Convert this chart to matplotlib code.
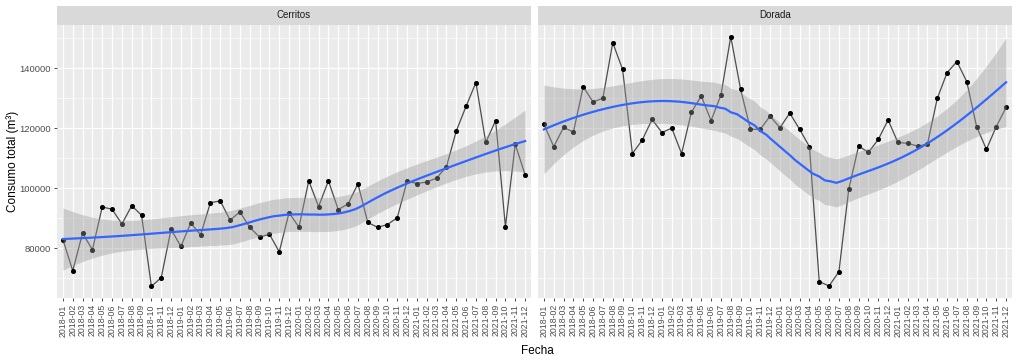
import matplotlib
matplotlib.use("Agg")
import matplotlib.pyplot as plt
import numpy as np

plt.rcParams['font.family'] = ['Liberation Sans', 'DejaVu Sans']

# months 2018-01 .. 2021-12
fechas = [f"{y}-{m:02d}" for y in range(2018, 2022) for m in range(1, 13)]

cerritos = [82900, 72500, 85000, 79500, 93800, 93000, 88100, 94200, 91000, 67300,
            70200, 86300, 80600, 88400, 84500, 95200, 95800, 89400, 92100, 87000,
            83700, 84700, 78800, 91900, 87000, 102500, 93900, 102500, 92900, 94800,
            101500, 88600, 87000, 87900, 90200, 102400, 101600, 102100, 103400, 107200,
            119100, 127400, 135300, 115300, 122600, 87200, 114700, 104500]

dorada = [121400, 113900, 120300, 118800, 133900, 128800, 130100, 148600, 139700, 111600,
          116100, 123000, 118600, 120100, 111600, 125400, 130800, 122600, 131100, 150600,
          133100, 119700, 119700, 124100, 120200, 125100, 119700, 113900, 68900, 67400,
          72200, 99700, 114100, 112000, 116300, 122800, 115300, 115000, 114100, 114700,
          130000, 138600, 142300, 135600, 120600, 113000, 120600, 127000]

paneles = [("Cerritos", cerritos), ("Dorada", dorada)]


def loess_fit(x, y, xnew, span=0.75):
    # local quadratic fit with tricube weights, like geom_smooth's default
    n = len(x)
    q = int(np.floor(n * span))

    def rows(pts):
        out = []
        for x0 in pts:
            d = np.abs(x - x0)
            h = np.sort(d)[q - 1]
            w = np.clip(1 - (d / h) ** 3, 0, None) ** 3
            X = np.column_stack([np.ones(n), x - x0, (x - x0) ** 2])
            XtW = X.T * w
            out.append(np.linalg.solve(XtW @ X, XtW)[0])
        return np.array(out)

    L = rows(x)
    I = np.eye(n)
    M = (I - L).T @ (I - L)
    d1 = np.trace(M)
    d2 = np.trace(M @ M)
    sigma = np.sqrt(np.sum(((I - L) @ y) ** 2) / d1)
    df = d1 ** 2 / d2
    z = 1.959964
    t = z + (z ** 3 + z) / (4 * df) + (5 * z ** 5 + 16 * z ** 3 + 3 * z) / (96 * df ** 2)
    Ln = rows(xnew)
    fit = Ln @ y
    se = sigma * np.sqrt(np.sum(Ln ** 2, axis=1))
    return fit, fit - t * se, fit + t * se


fig = plt.figure(figsize=(10.16, 3.6), dpi=100)
lefts = [57 / 1016, 538 / 1016]
width = 474 / 1016
bottom = 1 - 298 / 360
height = 273 / 360
strip_h = 19 / 360

x = np.arange(1, len(fechas) + 1, dtype=float)
xs = np.linspace(1, len(fechas), 80)

for i, (nombre, vals) in enumerate(paneles):
    ax = fig.add_axes([lefts[i], bottom, width, height])
    ax.set_facecolor("#EBEBEB")
    y = np.array(vals, dtype=float)
    ax.plot(x, y, color="#4D4D4D", lw=0.9, zorder=3)
    ax.scatter(x, y, s=7, color="black", zorder=4)
    fit, lo, hi = loess_fit(x, y, xs)
    ax.fill_between(xs, lo, hi, color="#999999", alpha=0.4, lw=0, zorder=5)
    ax.plot(xs, fit, color="#3366FF", lw=1.6, zorder=6)

    ax.set_xlim(0.4, len(fechas) + 0.6)
    ax.set_ylim(63400, 154500)
    ax.set_xticks(x)
    ax.set_xticklabels(fechas, rotation=90, fontsize=6.3, color="#4D4D4D")
    ax.set_yticks([80000, 100000, 120000, 140000])
    ax.set_yticks([70000, 90000, 110000, 130000, 150000], minor=True)
    ax.grid(True, which="major", color="white", lw=0.9)
    ax.grid(True, which="minor", axis="y", color="white", lw=0.45)
    ax.set_axisbelow(True)
    ax.tick_params(axis="both", which="major", length=2.5, width=0.6,
                   color="#333333", labelsize=6.8, labelcolor="#4D4D4D", pad=2)
    ax.tick_params(axis="x", labelsize=6.3)
    ax.tick_params(which="minor", length=0)
    for s in ax.spines.values():
        s.set_visible(False)
    if i == 0:
        ax.yaxis.set_major_formatter(matplotlib.ticker.FuncFormatter(lambda v, p: f"{int(v)}"))
    else:
        ax.set_yticklabels([])
        ax.tick_params(axis="y", length=0)

    strip = fig.add_axes([lefts[i], bottom + height, width, strip_h])
    strip.set_facecolor("#D9D9D9")
    strip.set_xticks([])
    strip.set_yticks([])
    for s in strip.spines.values():
        s.set_visible(False)
    strip.text(0.5, 0.5, nombre, ha="center", va="center", fontsize=7, color="#1A1A1A",
               transform=strip.transAxes)

fig.text(0.5285, 0.025, "Fecha", ha="center", va="center", fontsize=8.5, color="black")
fig.text(0.012, bottom + height / 2, "Consumo total (m³)", ha="center", va="center",
         rotation=90, fontsize=8.5, color="black")

fig.savefig("out.png", dpi=100)
